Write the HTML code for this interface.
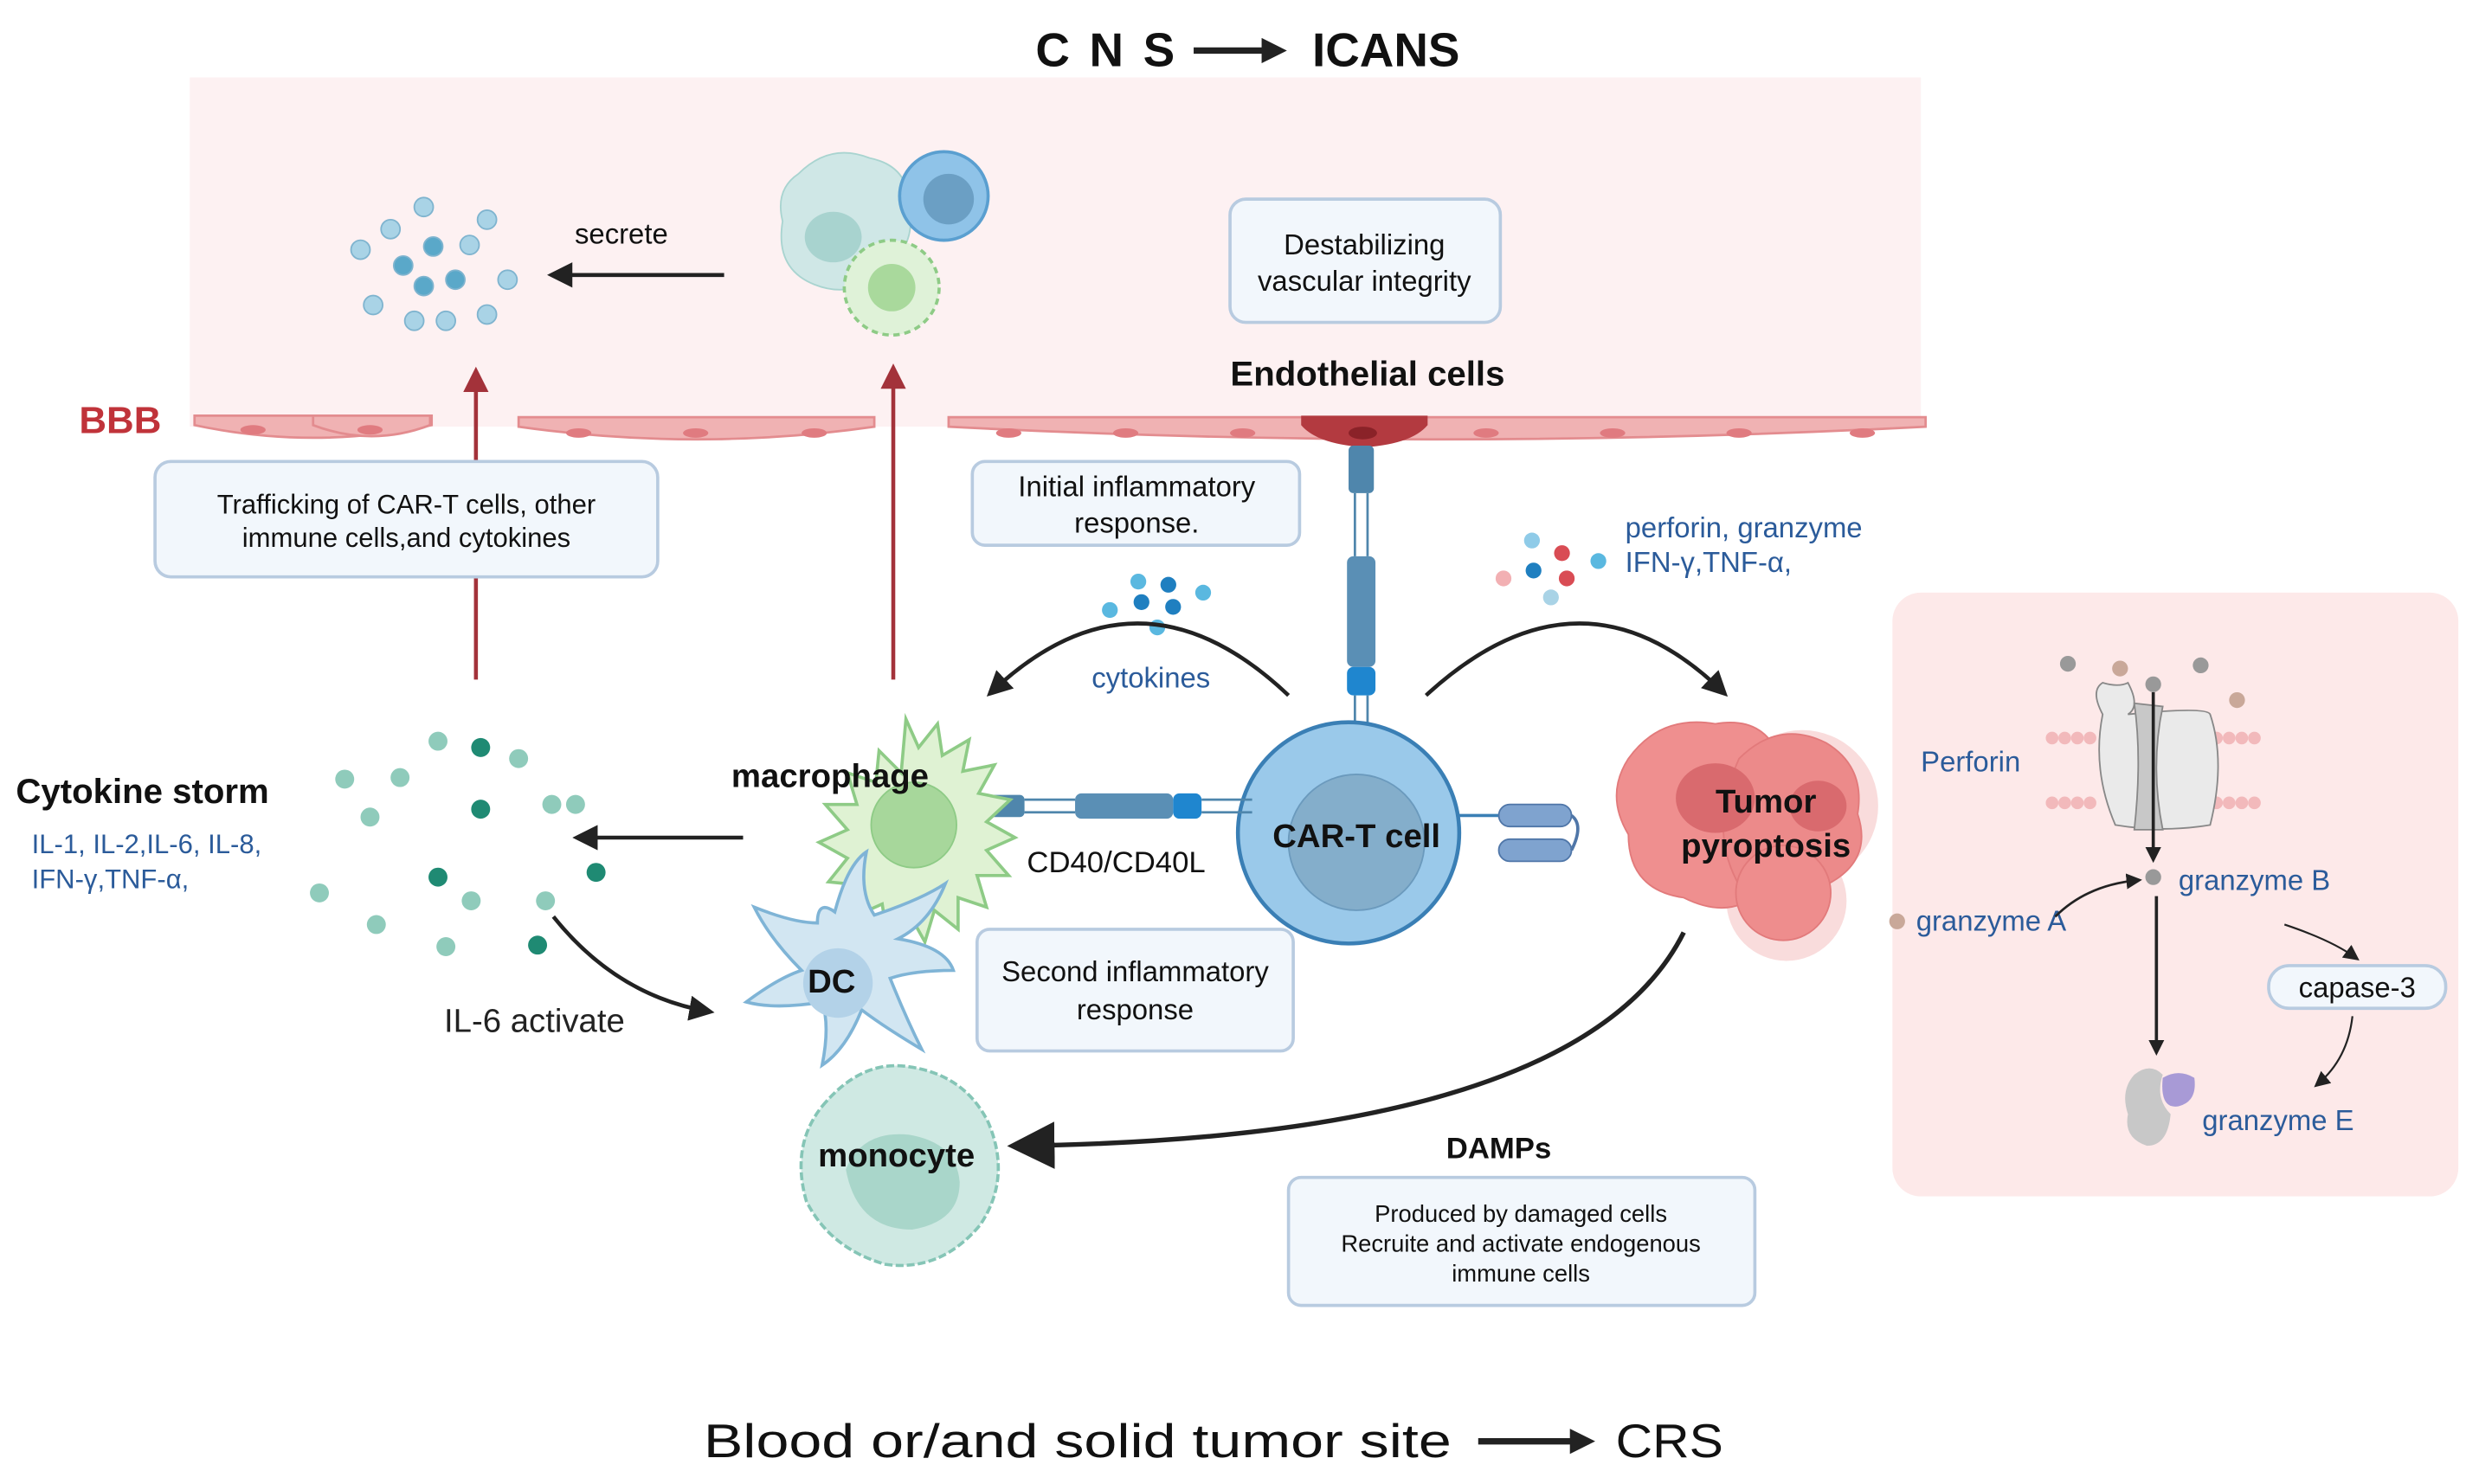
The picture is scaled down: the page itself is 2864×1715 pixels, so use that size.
<!DOCTYPE html>
<html><head><meta charset="utf-8"><style>
html,body{margin:0;padding:0;background:#fff}
svg{display:block}
text{font-family:"Liberation Sans",sans-serif}
</style></head><body>
<svg width="2864" height="1715" viewBox="0 0 1568 939" xmlns="http://www.w3.org/2000/svg">
<defs>
<marker id="ah" markerWidth="10" markerHeight="10" refX="7" refY="5" orient="auto" markerUnits="userSpaceOnUse"><path d="M0,0 L10,5 L0,10 z" fill="#222"/></marker>
<marker id="ahs" markerWidth="16" markerHeight="16" refX="12" refY="8" orient="auto" markerUnits="userSpaceOnUse"><path d="M0,0 L16,8 L0,16 z" fill="#222"/></marker>
<marker id="ahb" markerWidth="30" markerHeight="30" refX="22" refY="15" orient="auto" markerUnits="userSpaceOnUse"><path d="M0,0 L30,15 L0,30 z" fill="#222"/></marker>
<marker id="ahr" markerWidth="16" markerHeight="16" refX="10" refY="8" orient="auto" markerUnits="userSpaceOnUse"><path d="M0,0 L16,8 L0,16 z" fill="#a3323a"/></marker>
</defs>
<rect width="1568" height="939" fill="#fff"/>
<!-- title -->
<text x="655" y="42" font-size="30" font-weight="bold" fill="#111" letter-spacing="2">C N S</text>
<line x1="755" y1="32" x2="810" y2="32" stroke="#222" stroke-width="4" marker-end="url(#ahs)"/>
<text x="830" y="42" font-size="30" font-weight="bold" fill="#111">ICANS</text>
<!-- CNS band -->
<rect x="120" y="49" width="1095" height="221" fill="#fdf1f2"/>
<!-- red arrows (behind boxes) -->
<line x1="301" y1="430" x2="301" y2="238" stroke="#a3323a" stroke-width="2.5" marker-end="url(#ahr)"/>
<line x1="565" y1="430" x2="565" y2="236" stroke="#a3323a" stroke-width="2.5" marker-end="url(#ahr)"/>
<!-- endothelium -->
<g fill="#f0b2b3" stroke="#e38c8f" stroke-width="1.5">
<path d="M123,263 h150 v6 q-75,16 -150,0z"/>
<path d="M198,263 h74 v6 q-37,14 -74,0z"/>
<path d="M328,264 h225 v6 q-112,16 -225,0z"/>
<path d="M600,264 h618 v6 q-309,16 -618,0z"/>
</g>
<g fill="#e07b80">
<ellipse cx="160" cy="272" rx="8" ry="3"/><ellipse cx="234" cy="272" rx="8" ry="3"/>
<ellipse cx="366" cy="274" rx="8" ry="3"/><ellipse cx="440" cy="274" rx="8" ry="3"/><ellipse cx="515" cy="274" rx="8" ry="3"/>
<ellipse cx="638" cy="274" rx="8" ry="3"/><ellipse cx="712" cy="274" rx="8" ry="3"/><ellipse cx="786" cy="274" rx="8" ry="3"/>
<ellipse cx="940" cy="274" rx="8" ry="3"/><ellipse cx="1020" cy="274" rx="8" ry="3"/><ellipse cx="1100" cy="274" rx="8" ry="3"/><ellipse cx="1178" cy="274" rx="8" ry="3"/>
</g>
<path d="M823,263 h80 v6 q-10,12 -40,14 q-30,-2 -40,-14z" fill="#b33a40"/>
<ellipse cx="862" cy="274" rx="9" ry="4" fill="#8a2228"/>
<text x="50" y="274" font-size="24" font-weight="bold" fill="#c0333a">BBB</text>
<text x="865" y="244" font-size="22" font-weight="bold" fill="#111" text-anchor="middle">Endothelial cells</text>
<!-- boxes -->
<g fill="#f2f7fc" stroke="#b8cbe0" stroke-width="2">
<rect x="778" y="126" width="171" height="78" rx="10"/>
<rect x="98" y="292" width="318" height="73" rx="10"/>
<rect x="615" y="292" width="207" height="53" rx="8"/>
<rect x="618" y="588" width="200" height="77" rx="8"/>
<rect x="815" y="745" width="295" height="81" rx="8"/>
</g>
<g font-size="18" fill="#111" text-anchor="middle">
<text x="863" y="161">Destabilizing</text><text x="863" y="184">vascular integrity</text>
<text x="257" y="325" font-size="17">Trafficking of CAR-T cells, other</text><text x="257" y="346" font-size="17">immune cells,and cytokines</text>
<text x="719" y="314">Initial inflammatory</text><text x="719" y="337">response.</text>
<text x="718" y="621">Second inflammatory</text><text x="718" y="645">response</text>
<text x="962" y="773" font-size="15">Produced by damaged cells</text><text x="962" y="792" font-size="15">Recruite and activate endogenous</text><text x="962" y="811" font-size="15">immune cells</text>
</g>
<!-- secrete -->
<text x="393" y="154" font-size="18" fill="#111" text-anchor="middle">secrete</text>
<line x1="458" y1="174" x2="350" y2="174" stroke="#222" stroke-width="2.5" marker-end="url(#ahs)"/>
<g fill="#a9d3e6" stroke="#7fb4cf">
<circle cx="268" cy="131" r="6"/><circle cx="247" cy="145" r="6"/><circle cx="308" cy="139" r="6"/><circle cx="228" cy="158" r="6"/>
<circle cx="274" cy="156" r="6" fill="#5aa8c9"/><circle cx="297" cy="155" r="6"/><circle cx="255" cy="168" r="6" fill="#5aa8c9"/>
<circle cx="288" cy="177" r="6" fill="#5aa8c9"/><circle cx="268" cy="181" r="6" fill="#5aa8c9"/><circle cx="321" cy="177" r="6"/>
<circle cx="236" cy="193" r="6"/><circle cx="262" cy="203" r="6"/><circle cx="282" cy="203" r="6"/><circle cx="308" cy="199" r="6"/>
</g>
<!-- immune cells top -->
<path d="M505,110 q20,-20 45,-10 q25,5 25,30 q5,25 -15,40 q-20,20 -45,10 q-25,-10 -20,-40 q-5,-20 10,-30z" fill="#cfe7e6" stroke="#a9d4d0"/>
<ellipse cx="527" cy="150" rx="18" ry="16" fill="#a8d3cf"/>
<circle cx="597" cy="124" r="28" fill="#8fc3e8" stroke="#5a9fd0" stroke-width="2"/>
<circle cx="600" cy="126" r="16" fill="#6b9fc4"/>
<circle cx="564" cy="182" r="30" fill="#dff2d8" stroke="#8ecb86" stroke-width="2" stroke-dasharray="4 3"/>
<circle cx="564" cy="182" r="15" fill="#a9d99c"/>
<!-- cytokine storm -->
<text x="10" y="508" font-size="22" font-weight="bold" fill="#111">Cytokine storm</text>
<text x="20" y="540" font-size="17" fill="#2b5b9a">IL-1, IL-2,IL-6, IL-8,</text>
<text x="20" y="562" font-size="17" fill="#2b5b9a">IFN-γ,TNF-α,</text>
<g fill="#8fcbbb">
<circle cx="277" cy="469" r="6"/><circle cx="304" cy="473" r="6" fill="#1f8a73"/><circle cx="218" cy="493" r="6"/><circle cx="253" cy="492" r="6"/><circle cx="328" cy="480" r="6"/>
<circle cx="234" cy="517" r="6"/><circle cx="304" cy="512" r="6" fill="#1f8a73"/><circle cx="349" cy="509" r="6"/><circle cx="364" cy="509" r="6"/>
<circle cx="277" cy="555" r="6" fill="#1f8a73"/><circle cx="377" cy="552" r="6" fill="#1f8a73"/><circle cx="202" cy="565" r="6"/><circle cx="298" cy="570" r="6"/><circle cx="345" cy="570" r="6"/>
<circle cx="238" cy="585" r="6"/><circle cx="282" cy="599" r="6"/><circle cx="340" cy="598" r="6" fill="#1f8a73"/>
</g>
<line x1="470" y1="530" x2="366" y2="530" stroke="#222" stroke-width="2.5" marker-end="url(#ahs)"/>
<text x="338" y="653" font-size="21" fill="#222" text-anchor="middle">IL-6 activate</text>
<path d="M350,580 Q390,630 448,640" fill="none" stroke="#222" stroke-width="2.5" marker-end="url(#ahs)"/>
<!-- cytokines blue dots -->
<g fill="#5ab8e0"><circle cx="720" cy="368" r="5"/><circle cx="739" cy="370" r="5" fill="#1f7fc0"/><circle cx="702" cy="386" r="5"/><circle cx="722" cy="381" r="5" fill="#1f7fc0"/><circle cx="742" cy="384" r="5" fill="#1f7fc0"/><circle cx="761" cy="375" r="5"/><circle cx="732" cy="397" r="5"/></g>
<path d="M815,440 Q720,350 627,438" fill="none" stroke="#222" stroke-width="2.5" marker-end="url(#ahs)"/>
<text x="728" y="435" font-size="18" fill="#2b5b9a" text-anchor="middle">cytokines</text>
<path d="M902,440 Q1000,350 1090,438" fill="none" stroke="#222" stroke-width="2.5" marker-end="url(#ahs)"/>
<g><circle cx="969" cy="342" r="5" fill="#8fcbe8"/><circle cx="988" cy="350" r="5" fill="#d94c54"/><circle cx="951" cy="366" r="5" fill="#f2b0b3"/><circle cx="970" cy="361" r="5" fill="#1f7fc0"/><circle cx="991" cy="366" r="5" fill="#d94c54"/><circle cx="1011" cy="355" r="5" fill="#5ab8e0"/><circle cx="981" cy="378" r="5" fill="#a9d3e6"/></g>
<text x="1028" y="340" font-size="18" fill="#2b5b9a">perforin, granzyme</text>
<text x="1028" y="362" font-size="18" fill="#2b5b9a">IFN-γ,TNF-α,</text>
<!-- CAR receptor vertical -->
<rect x="853" y="282" width="16" height="30" rx="3" fill="#4f86ac"/>
<line x1="857" y1="312" x2="857" y2="352" stroke="#4f86ac" stroke-width="1.5"/><line x1="865" y1="312" x2="865" y2="352" stroke="#4f86ac" stroke-width="1.5"/>
<rect x="852" y="352" width="18" height="70" rx="4" fill="#5a8fb5"/>
<rect x="852" y="422" width="18" height="18" rx="4" fill="#1f86cf"/>
<line x1="857" y1="440" x2="857" y2="475" stroke="#4f86ac" stroke-width="1.5"/><line x1="865" y1="440" x2="865" y2="475" stroke="#4f86ac" stroke-width="1.5"/>
<!-- CAR-T cell -->
<circle cx="853" cy="527" r="70" fill="#9ac9ea" stroke="#3a7fb5" stroke-width="2.5"/>
<circle cx="858" cy="533" r="43" fill="#84aecb" stroke="#6b9abd"/>
<text x="858" y="536" font-size="21" font-weight="bold" fill="#111" text-anchor="middle">CAR-T cell</text>
<!-- CD40 -->
<rect x="620" y="503" width="28" height="14" rx="3" fill="#4f86ac"/>
<line x1="648" y1="506" x2="680" y2="506" stroke="#4f86ac" stroke-width="1.5"/><line x1="648" y1="514" x2="680" y2="514" stroke="#4f86ac" stroke-width="1.5"/>
<rect x="680" y="502" width="62" height="16" rx="4" fill="#5a8fb5"/>
<rect x="742" y="502" width="18" height="16" rx="4" fill="#1f86cf"/>
<line x1="760" y1="506" x2="792" y2="506" stroke="#4f86ac" stroke-width="1.5"/><line x1="760" y1="514" x2="792" y2="514" stroke="#4f86ac" stroke-width="1.5"/>
<text x="706" y="552" font-size="19" fill="#111" text-anchor="middle">CD40/CD40L</text>
<!-- right receptor -->
<line x1="922" y1="516" x2="950" y2="516" stroke="#3a7fb5" stroke-width="2"/>
<rect x="948" y="509" width="46" height="14" rx="7" fill="#7fa3cf" stroke="#4f76a8"/>
<rect x="948" y="531" width="46" height="14" rx="7" fill="#7fa3cf" stroke="#4f76a8"/>
<path d="M994,516 q8,6 0,22" fill="none" stroke="#4f76a8" stroke-width="2"/>
<!-- tumor -->
<circle cx="1140" cy="510" r="48" fill="#f7d3d3" opacity="0.8"/>
<circle cx="1130" cy="570" r="38" fill="#f7d3d3" opacity="0.8"/>
<path d="M1030,480 q20,-28 55,-22 q30,-5 40,20 q25,15 15,45 q5,30 -25,40 q-20,20 -50,5 q-35,-5 -35,-40 q-15,-25 0,-48z" fill="#ef8f8f" stroke="#e27a7b"/>
<path d="M1100,480 q25,-25 55,-10 q25,15 20,45 q10,30 -20,45 q-25,20 -55,0 q-20,-35 0,-80z" fill="#ec8a8a" stroke="#e27a7b"/>
<circle cx="1128" cy="565" r="30" fill="#ee8d8d" stroke="#e27a7b"/>
<ellipse cx="1085" cy="505" rx="25" ry="22" fill="#d96a6e"/>
<ellipse cx="1150" cy="510" rx="18" ry="16" fill="#d96a6e"/>
<text x="1117" y="514" font-size="21" font-weight="bold" fill="#111" text-anchor="middle">Tumor</text>
<text x="1117" y="542" font-size="21" font-weight="bold" fill="#111" text-anchor="middle">pyroptosis</text>
<!-- macrophage -->
<path d="M573,455 l8,18 12,-15 3,20 17,-10 -4,20 20,-4 -10,18 20,4 -15,14 18,10 -18,8 14,16 -20,0 6,20 -18,-6 0,20 -15,-12 -6,20 -10,-18 -14,14 -3,-20 -18,8 4,-20 -20,-2 12,-15 -18,-10 18,-8 -14,-16 20,0 -6,-20 18,6 2,-20 14,14z" fill="#dff2d3" stroke="#8ecb86" stroke-width="2"/>
<circle cx="578" cy="522" r="27" fill="#a7d79b" stroke="#8ecb86"/>
<text x="525" y="498" font-size="21" font-weight="bold" fill="#111" text-anchor="middle">macrophage</text>
<!-- DC -->
<path d="M528,577 q8,-30 20,-38 q-5,25 5,40 q30,-10 45,-20 q-10,25 -30,35 q30,5 35,20 q-25,0 -40,5 q10,25 20,45 q-25,-15 -38,-25 q-10,25 -25,35 q5,-25 0,-40 q-30,5 -48,0 q20,-15 35,-20 q-20,-20 -30,-40 q25,10 40,10 q0,-15 11,-7z" fill="#d2e6f2" stroke="#7fb4d6" stroke-width="2"/>
<circle cx="530" cy="622" r="22" fill="#b3d2e8"/>
<text x="526" y="628" font-size="21" font-weight="bold" fill="#111" text-anchor="middle">DC</text>
<!-- monocyte -->
<path d="M520,700 q25,-30 55,-25 q35,5 50,35 q15,35 -5,65 q-25,30 -60,25 q-35,-10 -50,-40 q-10,-35 10,-60z" fill="#cfe9e3" stroke="#85c5b6" stroke-width="2" stroke-dasharray="5 2"/>
<path d="M535,740 q10,-25 40,-22 q30,5 32,30 q0,25 -30,30 q-35,0 -42,-38z" fill="#a9d6ca"/>
<text x="567" y="738" font-size="21" font-weight="bold" fill="#111" text-anchor="middle">monocyte</text>
<!-- DAMPs arrow -->
<path d="M1065,590 Q1000,720 645,725" fill="none" stroke="#222" stroke-width="3" marker-end="url(#ahb)"/>
<text x="948" y="733" font-size="19" font-weight="bold" fill="#111" text-anchor="middle">DAMPs</text>
<!-- right panel -->
<rect x="1197" y="375" width="358" height="382" rx="18" fill="#fde9e9"/>
<g fill="#f2b9bb"><circle cx="1298" cy="467" r="4"/><circle cx="1306" cy="467" r="4"/><circle cx="1314" cy="467" r="4"/><circle cx="1322" cy="467" r="4"/><circle cx="1298" cy="508" r="4"/><circle cx="1306" cy="508" r="4"/><circle cx="1314" cy="508" r="4"/><circle cx="1322" cy="508" r="4"/>
<circle cx="1402" cy="467" r="4"/><circle cx="1410" cy="467" r="4"/><circle cx="1418" cy="467" r="4"/><circle cx="1426" cy="467" r="4"/><circle cx="1402" cy="508" r="4"/><circle cx="1410" cy="508" r="4"/><circle cx="1418" cy="508" r="4"/><circle cx="1426" cy="508" r="4"/></g>
<path d="M1330,452 q-8,-15 0,-20 q10,3 16,0 q8,15 0,20 q50,-5 52,0 q10,30 0,70 q-30,5 -60,0 q-15,-35 -8,-70z" fill="#eaeaea" stroke="#888"/>
<path d="M1350,445 q5,35 0,80 h18 q-8,-40 0,-78z" fill="#c8c8c8" stroke="#888"/>
<g fill="#999"><circle cx="1308" cy="420" r="5"/><circle cx="1392" cy="421" r="5"/><circle cx="1362" cy="433" r="5"/></g>
<g fill="#c9a899"><circle cx="1341" cy="423" r="5"/><circle cx="1415" cy="443" r="5"/><circle cx="1200" cy="583" r="5"/></g>
<text x="1215" y="488" font-size="18" fill="#2b5b9a">Perforin</text>
<line x1="1362" y1="438" x2="1362" y2="543" stroke="#222" stroke-width="2" marker-end="url(#ah)"/>
<circle cx="1362" cy="555" r="5" fill="#999"/>
<text x="1378" y="563" font-size="18" fill="#2b5b9a">granzyme B</text>
<text x="1212" y="589" font-size="18" fill="#2b5b9a">granzyme A</text>
<path d="M1300,580 Q1320,560 1352,557" fill="none" stroke="#222" stroke-width="1.5" marker-end="url(#ah)"/>
<line x1="1364" y1="567" x2="1364" y2="665" stroke="#222" stroke-width="2" marker-end="url(#ah)"/>
<path d="M1445,585 Q1475,595 1490,606" fill="none" stroke="#222" stroke-width="1.2" marker-end="url(#ah)"/>
<rect x="1435" y="611" width="112" height="27" rx="13" fill="#f2f7fc" stroke="#b8cbe0" stroke-width="2"/>
<text x="1491" y="631" font-size="18" fill="#111" text-anchor="middle">capase-3</text>
<path d="M1488,643 Q1485,670 1466,686" fill="none" stroke="#222" stroke-width="1.2" marker-end="url(#ah)"/>
<path d="M1350,680 q10,-8 18,0 q-5,15 5,25 q-2,20 -15,20 q-15,-5 -12,-20 q-5,-15 4,-25z" fill="#c8c8c8"/>
<path d="M1368,682 q10,-6 20,0 q2,15 -10,18 q-12,2 -10,-18z" fill="#a89ad6"/>
<text x="1393" y="715" font-size="18" fill="#2b5b9a">granzyme E</text>
<!-- bottom -->
<text x="445" y="922" font-size="30" fill="#111" textLength="473" lengthAdjust="spacingAndGlyphs">Blood or/and solid tumor site</text>
<line x1="935" y1="912" x2="1005" y2="912" stroke="#222" stroke-width="4" marker-end="url(#ahs)"/>
<text x="1022" y="922" font-size="30" fill="#111" textLength="68" lengthAdjust="spacingAndGlyphs">CRS</text>
</svg>
</body></html>
